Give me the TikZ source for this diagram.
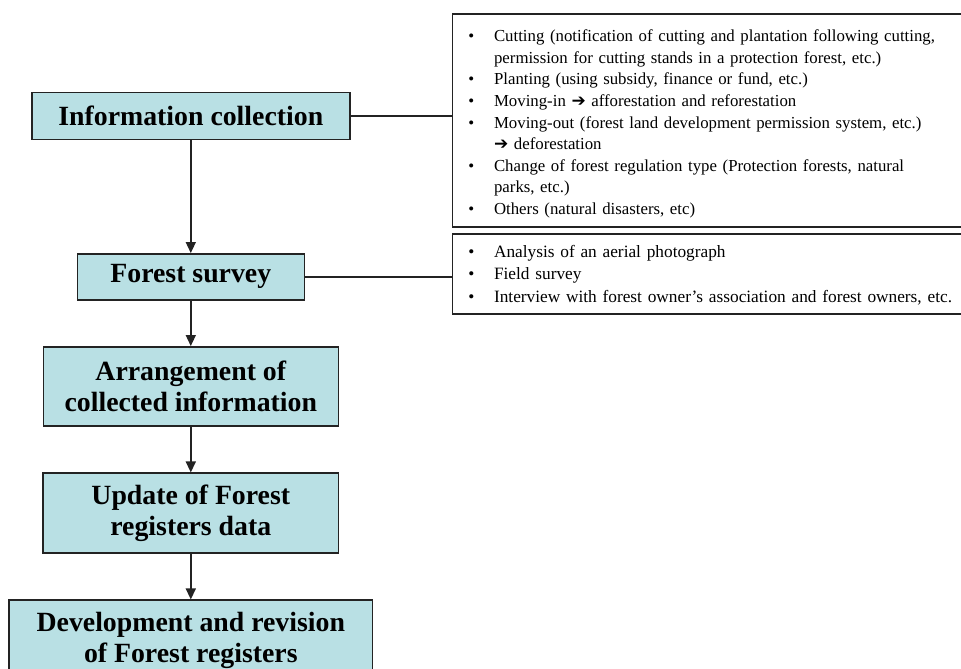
\documentclass[tikz,border=0pt]{standalone}
\usepackage{fontspec}
\setmainfont{Liberation Serif}
\newfontfamily\arrowfont{DejaVu Sans}
\usepackage{xcolor}
\usepackage{tikz}
\usetikzlibrary{arrows.meta, positioning}

\definecolor{stagefill}{RGB}{185,224,228}
\definecolor{edgegray}{RGB}{35,35,35}

\newcommand{\litem}{\makebox[25.6pt][l]{\textbullet}}
\newcommand{\lcont}{\hspace*{25.6pt}}
\newcommand{\larrow}{{\arrowfont\fontsize{17}{17}\selectfont ➔}}

\begin{document}
\begin{tikzpicture}[
    x=1pt, y=-1pt,
    >={Triangle[length=11pt, width=10pt]},
    stage/.style={rectangle, draw=edgegray, line width=1.5pt, fill=stagefill,
                  align=center, inner sep=0pt,
                  font=\fontsize{27.8}{30.5}\selectfont\bfseries},
    listbox/.style={rectangle, draw=edgegray, line width=1.5pt, fill=white,
                    anchor=north west, text width=500pt, align=left,
                    inner xsep=16pt, inner ysep=0pt},
    flow/.style={->, line width=1.5pt, draw=edgegray},
    link/.style={line width=1.5pt, draw=edgegray},
    node distance=45.5pt,
]
    \useasboundingbox (0,0) rectangle (961,669);
    \clip (0,0) rectangle (961,669);

    % Main flow
    \node[stage, minimum width=318pt, minimum height=46.6pt] (info) at (190.8,116)
        {Information collection};
    \node[stage, minimum width=227pt, minimum height=46pt, below=113pt of info] (survey)
        {Forest survey};
    \node[stage, minimum width=295pt, minimum height=79.4pt, below=of survey] (arrange)
        {Arrangement of\\collected information};
    \node[stage, minimum width=295.7pt, minimum height=80pt, below=of arrange] (update)
        {Update of Forest\\registers data};
    \node[stage, minimum width=363.4pt, minimum height=80pt, below=of update] (develop)
        {Development and revision\\of Forest registers};

    \draw[flow] (info) -- (survey);
    \draw[flow] (survey) -- (arrange);
    \draw[flow] (arrange) -- (update);
    \draw[flow] (update) -- (develop);

    % Details
    \node[listbox, text height=27.7pt, text depth=185pt,
          font=\fontsize{16.8}{21.6}\selectfont] (list1) at (451.7,13.3)
        {\litem Cutting (notification of cutting and plantation following cutting,\\
         \lcont permission for cutting stands in a protection forest, etc.)\\
         \litem Planting (using subsidy, finance or fund, etc.)\\
         \litem Moving-in \larrow{} afforestation and reforestation\\
         \litem Moving-out (forest land development permission system, etc.)\\
         \lcont \larrow{} deforestation\\
         \litem Change of forest regulation type (Protection forests, natural\\
         \lcont parks, etc.)\\
         \litem Others (natural disasters, etc)};
    \node[listbox, text height=23.5pt, text depth=56.5pt,
          font=\fontsize{17.3}{22.3}\selectfont] (list2) at (451.7,233.3)
        {\litem Analysis of an aerial photograph\\
         \litem Field survey\\
         \litem Interview with forest owner’s association and forest owners, etc.};

    \draw[link] (info.east) -- (info.east -| list1.west);
    \draw[link] (survey.east) -- (survey.east -| list2.west);
\end{tikzpicture}
\end{document}
